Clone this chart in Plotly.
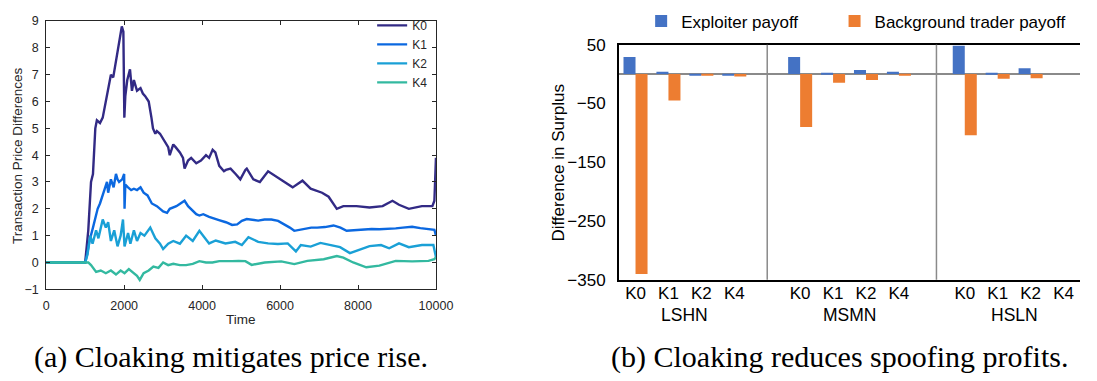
import plotly.graph_objects as go

# ---------------- Left panel: price differences over time ----------------
k0_t = [0, 1000, 1080, 1150, 1200, 1260, 1300, 1380, 1450, 1530, 1600, 1660, 1720, 1785, 1830, 1870, 1910, 1940, 1980, 1995, 2005, 2030, 2080, 2150, 2200, 2250, 2330, 2420, 2480, 2540, 2630, 2700, 2740, 2800, 2840, 2920, 3050, 3130, 3170, 3260, 3320, 3430, 3510, 3550, 3640, 3720, 3850, 3970, 4100, 4180, 4270, 4340, 4440, 4560, 4610, 4730, 4860, 4980, 5110, 5146, 5314, 5482, 5693, 5903, 6113, 6323, 6575, 6785, 7078, 7246, 7456, 7624, 7960, 8296, 8632, 8884, 9052, 9304, 9640, 9908, 9960, 10000]
k0_v = [0, 0, 1.2, 3.0, 3.3, 5.0, 5.3, 5.2, 5.4, 6.0, 6.5, 7.0, 6.9, 7.5, 7.9, 8.3, 8.5, 8.8, 8.6, 7.0, 5.4, 6.2, 6.8, 7.2, 6.4, 6.8, 6.4, 6.5, 6.3, 6.2, 6.0, 5.4, 5.0, 4.8, 4.9, 4.8, 4.5, 4.3, 4.0, 4.4, 4.3, 4.1, 3.9, 3.5, 3.8, 3.9, 3.7, 3.8, 4.0, 3.9, 4.2, 4.1, 3.6, 3.4, 3.45, 3.5, 3.3, 3.1, 3.45, 3.5, 3.1, 3.0, 3.4, 3.2, 3.0, 2.8, 3.05, 2.75, 2.6, 2.45, 2.0, 2.1, 2.1, 2.05, 2.1, 2.3, 2.15, 2.0, 2.1, 2.1, 2.3, 3.9]

k1_t = [0, 1000, 1050, 1110, 1200, 1320, 1380, 1450, 1500, 1560, 1590, 1660, 1730, 1790, 1830, 1870, 1950, 2000, 2010, 2030, 2100, 2180, 2250, 2330, 2420, 2500, 2600, 2710, 2840, 3000, 3100, 3170, 3340, 3460, 3550, 3640, 3720, 3850, 3930, 4030, 4180, 4350, 4433, 4610, 4770, 4900, 5020, 5146, 5300, 5440, 5600, 5777, 5950, 6113, 6250, 6365, 6500, 6617, 6800, 6953, 7150, 7372, 7550, 7708, 7900, 8128, 8350, 8548, 8750, 8968, 9150, 9388, 9600, 9808, 9960, 10000]
k1_v = [0, 0, 0.3, 0.8, 1.3, 2.0, 2.2, 2.5, 2.7, 3.0, 2.6, 3.1, 2.8, 3.3, 3.1, 3.0, 3.1, 3.3, 2.0, 2.9, 2.8, 2.7, 2.75, 2.7, 2.8, 2.6, 2.5, 2.2, 2.1, 1.9, 1.85, 2.0, 2.1, 2.2, 2.3, 2.1, 2.0, 1.8, 1.75, 1.8, 1.7, 1.6, 1.58, 1.5, 1.4, 1.42, 1.55, 1.62, 1.58, 1.56, 1.6, 1.6, 1.55, 1.42, 1.3, 1.18, 1.22, 1.27, 1.3, 1.3, 1.32, 1.38, 1.3, 1.18, 1.2, 1.22, 1.25, 1.24, 1.25, 1.27, 1.3, 1.33, 1.28, 1.24, 1.22, 1.0]

k2_t = [0, 1000, 1060, 1130, 1190, 1280, 1340, 1450, 1530, 1590, 1660, 1745, 1830, 1910, 1970, 2010, 2100, 2160, 2250, 2330, 2420, 2520, 2670, 2800, 2920, 3000, 3130, 3260, 3430, 3590, 3760, 3930, 4056, 4180, 4350, 4600, 4850, 5020, 5188, 5440, 5693, 5945, 6197, 6407, 6533, 6785, 7036, 7288, 7540, 7792, 8044, 8296, 8590, 8800, 9052, 9304, 9640, 9934, 10000]
k2_v = [0, 0, 0.3, 1.0, 0.7, 1.2, 0.9, 1.6, 1.3, 1.5, 0.8, 1.2, 0.6, 1.0, 1.6, 0.6, 1.1, 0.7, 1.2, 0.8, 1.1, 1.0, 1.3, 0.9, 0.7, 0.5, 0.7, 0.8, 0.7, 1.0, 0.8, 1.18, 0.94, 0.71, 0.82, 0.71, 0.77, 0.65, 0.94, 0.77, 0.71, 0.69, 0.71, 0.41, 0.65, 0.59, 0.73, 0.65, 0.57, 0.35, 0.47, 0.61, 0.65, 0.53, 0.71, 0.57, 0.65, 0.65, 0.2]

k4_t = [0, 1000, 1080, 1150, 1280, 1400, 1530, 1660, 1790, 1910, 2010, 2120, 2250, 2330, 2400, 2500, 2630, 2750, 2880, 3000, 3130, 3260, 3430, 3590, 3760, 3930, 4100, 4265, 4440, 4600, 4770, 4935, 5110, 5272, 5608, 6029, 6365, 6700, 7120, 7456, 7624, 7876, 8212, 8548, 8968, 9388, 9808, 9958, 10000]
k4_v = [0, 0, 0.0, -0.1, -0.35, -0.3, -0.4, -0.3, -0.45, -0.3, -0.4, -0.25, -0.4, -0.5, -0.65, -0.4, -0.3, -0.15, -0.2, 0.0, -0.1, -0.05, -0.1, -0.1, -0.05, 0.05, 0.0, 0.0, 0.05, 0.04, 0.05, 0.06, 0.05, -0.09, 0.0, 0.04, -0.06, 0.06, 0.12, 0.24, 0.18, 0.0, -0.18, -0.12, 0.06, 0.04, 0.06, 0.12, 0.2]

line_names = ["K0", "K1", "K2", "K4"]
line_colors = ["#322a85", "#0b68e0", "#1aa0d6", "#33b9a0"]
time_ticks = [0, 2000, 4000, 6000, 8000, 10000]
time_labels = ["0", "2000", "4000", "6000", "8000", "10000"]
price_ticks = [-1, 0, 1, 2, 3, 4, 5, 6, 7, 8, 9]

# ---------------- Right panel: surplus differences ----------------
groups = ["LSHN", "MSMN", "HSLN"]
levels = ["K0", "K1", "K2", "K4"]
exploiter = [29, 4, -3, -3, 29, 1, 7, 4, 48, 1, 10, 0]
background = [-340, -45, -3, -4, -90, -15, -10, -3, -104, -8, -7, 0]
surplus_ticks = [-350, -250, -150, -50, 50]

# category slots: 4 levels per group followed by one empty slot
slot_x = [g * 5 + i for g in range(len(groups)) for i in range(len(levels))]
slot_text = [lv for g in groups for lv in levels]
group_centers = [g * 5 + 1.5 for g in range(len(groups))]
separators = [4.0, 9.14]

SANS = "Liberation Sans, Arial, sans-serif"
fig = go.Figure()

series = [(k0_t, k0_v), (k1_t, k1_v), (k2_t, k2_v), (k4_t, k4_v)]
for (t, v), name, col in zip(series, line_names, line_colors):
    fig.add_trace(go.Scatter(x=t, y=v, mode="lines", name=name,
                             line=dict(color=col, width=2.4),
                             xaxis="x", yaxis="y", legend="legend2"))

fig.add_trace(go.Bar(x=slot_x, y=exploiter, name="Exploiter payoff",
                     marker=dict(color="#4472c4", line=dict(width=0)),
                     xaxis="x2", yaxis="y2", legend="legend"))
fig.add_trace(go.Bar(x=slot_x, y=background, name="Background trader payoff",
                     marker=dict(color="#ed7d31", line=dict(width=0)),
                     xaxis="x2", yaxis="y2", legend="legend3"))

W, H = 1097, 381
def px(x):
    return x / W
def py(y):
    return 1 - y / H

axcol = "#262626"
fig.update_layout(
    width=W, height=H, margin=dict(l=0, r=0, t=0, b=0),
    paper_bgcolor="white", plot_bgcolor="white",
    font=dict(family=SANS, color="black"),
    showlegend=True,
    barmode="group", bargap=0.27, bargroupgap=0,
    xaxis=dict(domain=[px(44), px(441)], range=[0, 10000], tickvals=time_ticks,
               ticktext=time_labels, anchor="y",
               ticks="inside", ticklen=4, tickcolor=axcol, showline=True, mirror="ticks",
               linecolor=axcol, linewidth=1, showgrid=False, zeroline=False,
               ticklabelstandoff=5, tickfont=dict(size=12.5, color=axcol)),
    yaxis=dict(domain=[py(295), py(12.7)], range=[-1, 9], tickvals=price_ticks, anchor="x",
               ticks="inside", ticklen=4, tickcolor=axcol, showline=True, mirror="ticks",
               linecolor=axcol, linewidth=1, showgrid=False, zeroline=False,
               ticklabelstandoff=4, tickfont=dict(size=12.5, color=axcol)),
    xaxis2=dict(domain=[px(627.5), 1.0], range=[-0.5, 13.5], tickvals=slot_x, ticktext=slot_text,
                anchor="y2", ticks="", showline=True, mirror=True, linecolor="black", linewidth=2,
                showgrid=False, zeroline=False, ticklabelstandoff=-3,
                tickfont=dict(size=17, color="black")),
    yaxis2=dict(domain=[py(285), py(37.5)], range=[-350, 50], tickvals=surplus_ticks,
                anchor="x2", ticks="", showline=True, mirror=False, linecolor="black", linewidth=2,
                showgrid=False, zeroline=True, zerolinecolor="#8a8a8a", zerolinewidth=1.5,
                ticklabelstandoff=8, tickfont=dict(size=17, color="black")),
    legend=dict(orientation="h", x=px(650), y=py(13), xanchor="left", yanchor="middle",
                font=dict(size=17, color="black"), bgcolor="rgba(0,0,0,0)", visible=True),
    legend3=dict(orientation="h", x=px(847), y=py(13), xanchor="left", yanchor="middle",
                 font=dict(size=17, color="black"), bgcolor="rgba(0,0,0,0)", visible=True),
    legend2=dict(orientation="v", x=px(376), y=py(2), xanchor="left", yanchor="top",
                 font=dict(size=12, color=axcol), bgcolor="rgba(0,0,0,0)",
                 tracegroupgap=0, itemwidth=30, visible=True),
)

for xs in separators:
    fig.add_shape(type="line", xref="x2", yref="paper", x0=xs, x1=xs,
                  y0=py(285), y1=py(37.5), line=dict(color="#8a8a8a", width=1.5))

for gx, gname in zip(group_centers, groups):
    fig.add_annotation(x=gx, y=py(322), xref="x2", yref="paper", text=gname,
                       showarrow=False, font=dict(size=17.5, color="black"),
                       xanchor="center", yanchor="middle")

# axis titles
fig.add_annotation(x=px(15), y=py(154), xref="paper", yref="paper",
                   text="Transaction Price Differences", textangle=-90, showarrow=False,
                   font=dict(size=13.5, color=axcol), xanchor="center", yanchor="middle")
fig.add_annotation(x=px(242), y=py(327), xref="paper", yref="paper", text="Time",
                   showarrow=False, font=dict(size=13.5, color=axcol),
                   xanchor="center", yanchor="middle")
fig.add_annotation(x=px(566), y=py(162), xref="paper", yref="paper",
                   text="Difference in Surplus", textangle=-90, showarrow=False,
                   font=dict(size=17, color="black"), xanchor="center", yanchor="middle")

# captions
SERIF = "Liberation Serif, Times New Roman, serif"
fig.add_annotation(x=px(232), y=py(366), xref="paper", yref="paper",
                   text="(a) Cloaking mitigates price rise.", showarrow=False,
                   font=dict(family=SERIF, size=30, color="black"),
                   xanchor="center", yanchor="middle")
fig.add_annotation(x=px(852), y=py(366), xref="paper", yref="paper",
                   text="(b) Cloaking reduces spoofing profits.", showarrow=False,
                   font=dict(family=SERIF, size=30, color="black"),
                   xanchor="center", yanchor="middle")

fig.write_html("out.html")
